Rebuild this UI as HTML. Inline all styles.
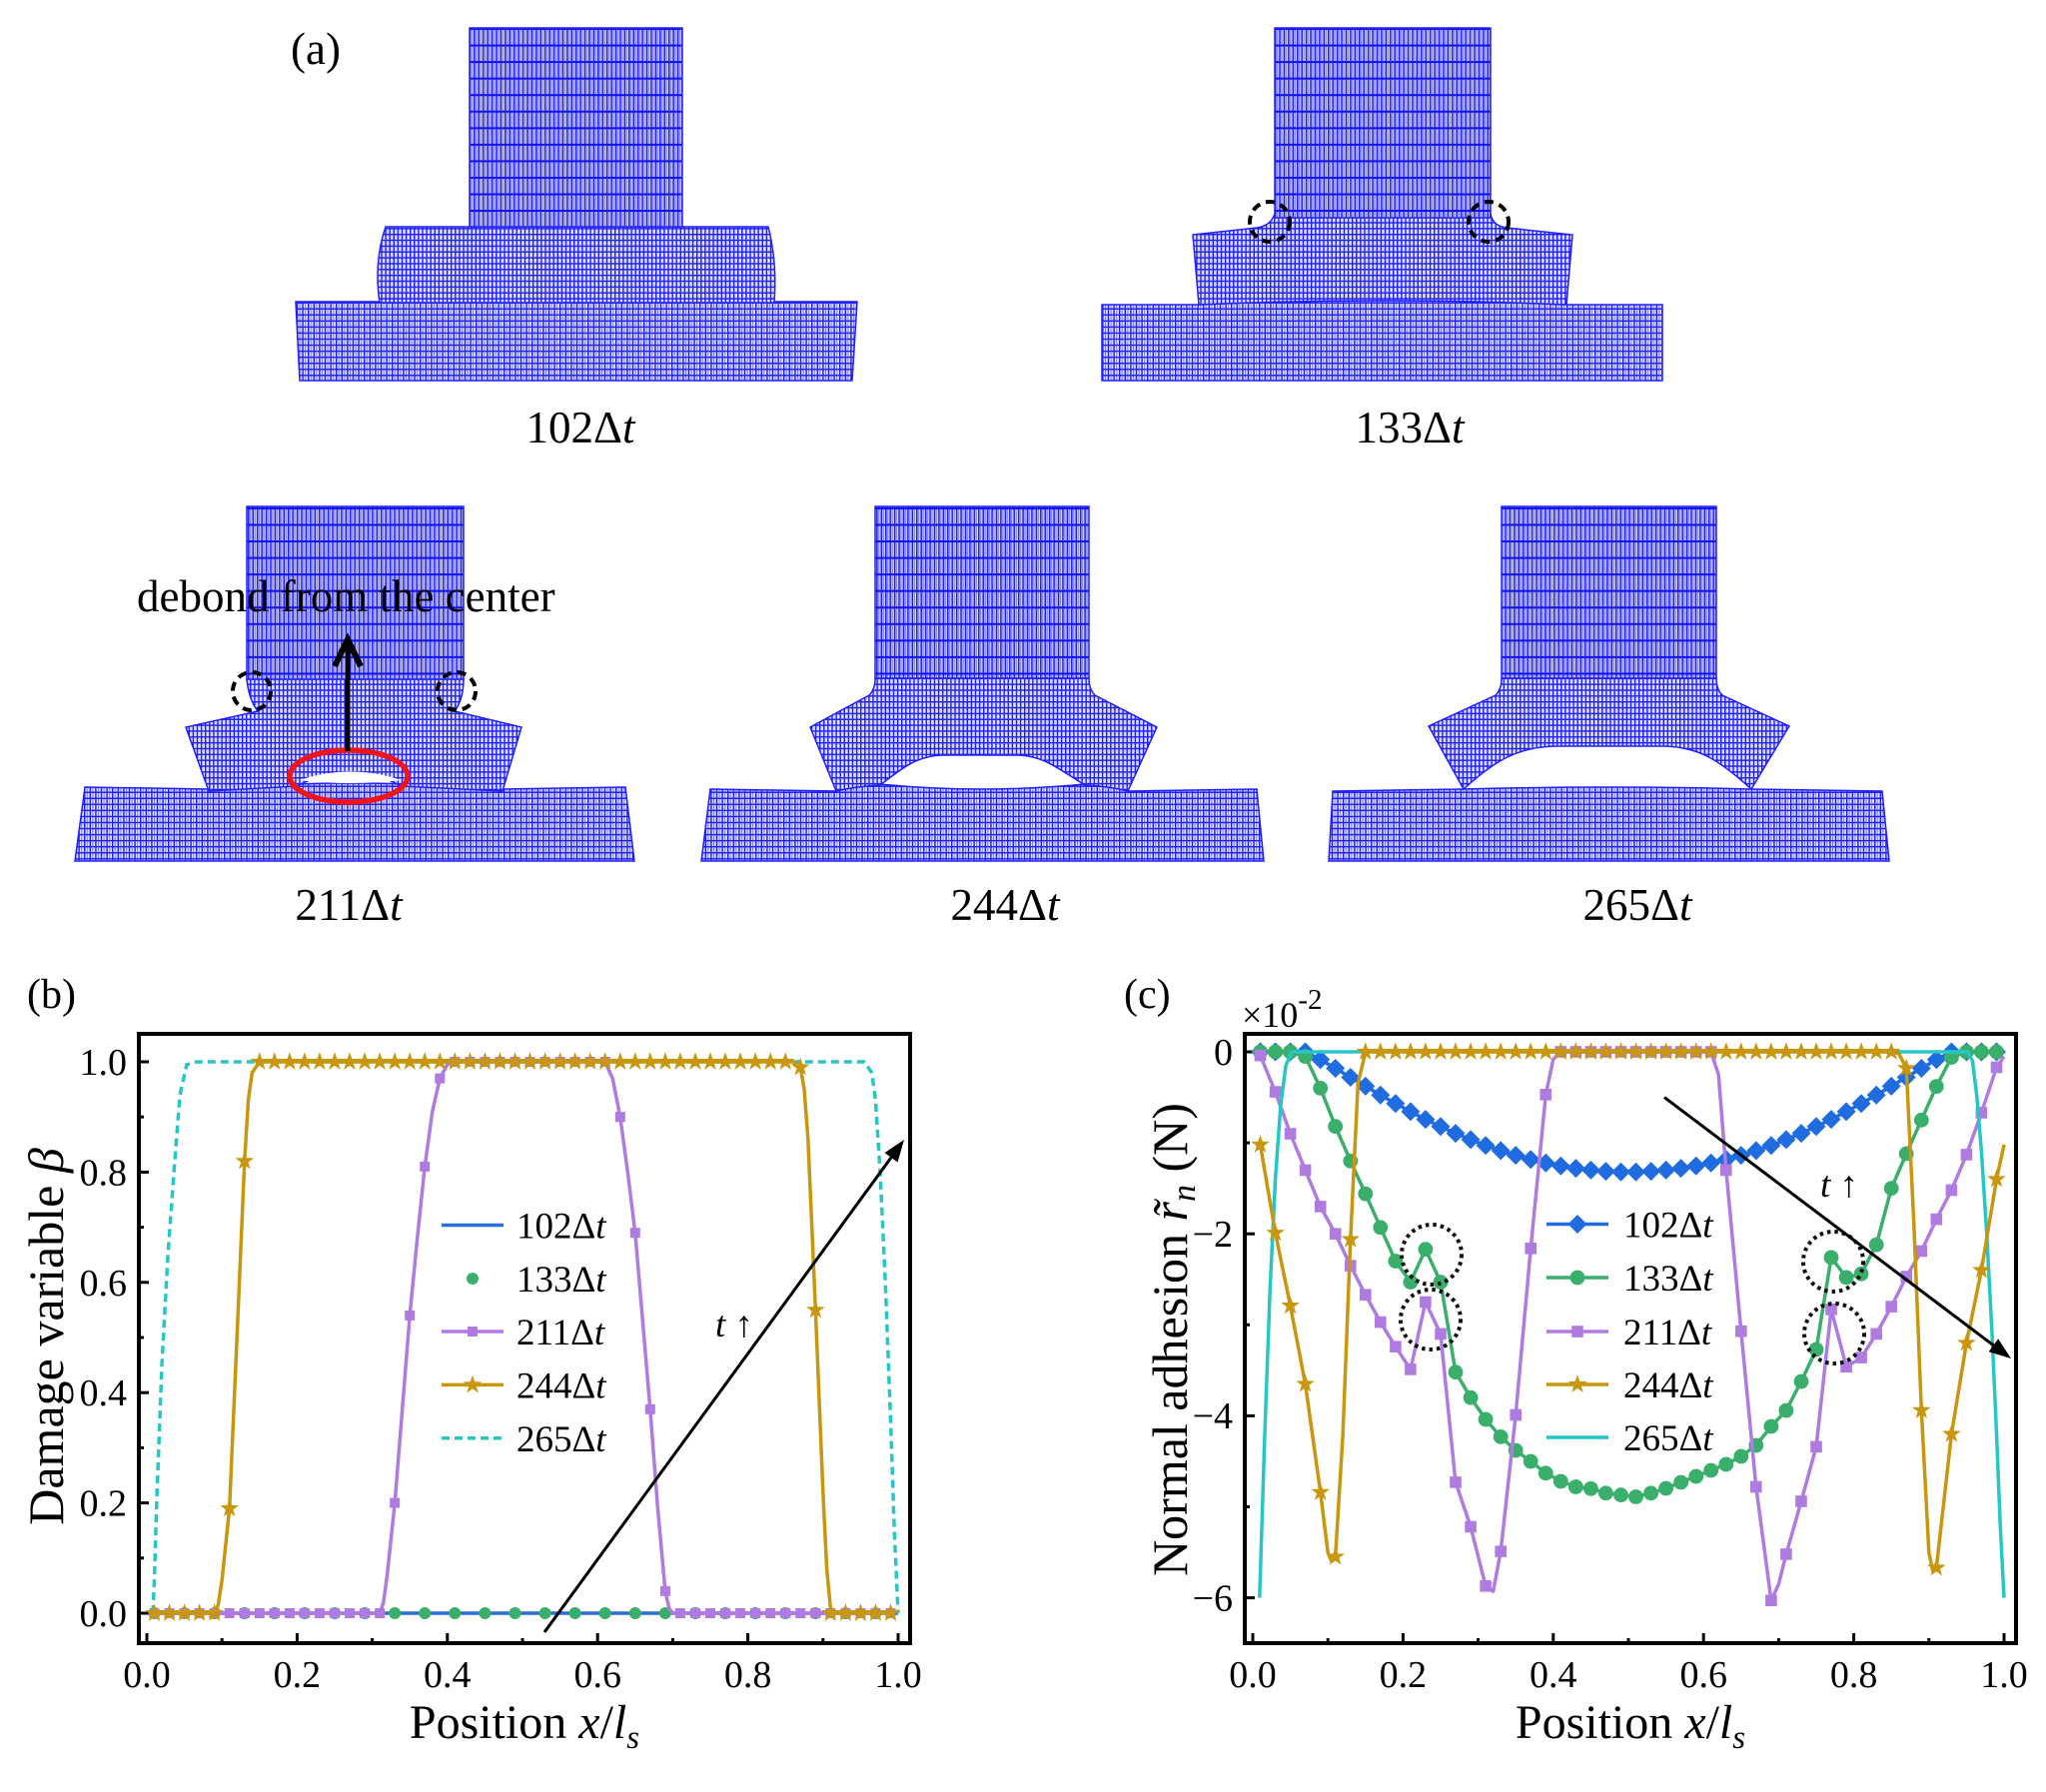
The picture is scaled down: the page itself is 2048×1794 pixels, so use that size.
<!DOCTYPE html>
<html><head><meta charset="utf-8"><style>
html,body{margin:0;padding:0;background:#fff;}
svg{display:block;font-family:"Liberation Serif","DejaVu Serif",serif;}
</style></head><body>
<svg width="2048" height="1794" viewBox="0 0 2048 1794" xmlns="http://www.w3.org/2000/svg">
<defs>
<pattern id="pT" patternUnits="userSpaceOnUse" x="0" y="11.45" width="4.43" height="16.55">
<rect width="4.43" height="16.55" fill="#d6d6f8"/>
<rect x="0" y="0" width="1.5" height="16.55" fill="#1c1cff"/>
<rect x="2.2" y="0" width="1.0" height="16.55" fill="#7070ff"/>
<rect x="0" y="0" width="4.43" height="2" fill="#1010f0"/>
</pattern>
<pattern id="pM" patternUnits="userSpaceOnUse" x="0" y="0" width="4.1" height="5.85">
<rect width="4.1" height="5.85" fill="#dcdcf8"/>
<rect x="0" y="0" width="1.4" height="5.85" fill="#1e1eff"/>
<rect x="0" y="0" width="4.1" height="1.4" fill="#1e1eff"/>
</pattern>
<pattern id="pB" patternUnits="userSpaceOnUse" x="0" y="0" width="5.6" height="6.05">
<rect width="5.6" height="6.05" fill="#dcdcf8"/>
<rect x="0" y="0" width="1.4" height="6.05" fill="#1e1eff"/>
<rect x="2.8" y="0" width="1.0" height="6.05" fill="#7a7aff"/>
<rect x="0" y="0" width="5.6" height="1.4" fill="#1e1eff"/>
</pattern>
<marker id="mCirB" markerUnits="userSpaceOnUse" markerWidth="1" markerHeight="1" overflow="visible"><circle r="6" fill="#3aae6b"/></marker>
<marker id="mSqB" markerUnits="userSpaceOnUse" markerWidth="1" markerHeight="1" overflow="visible"><rect x="-5" y="-5" width="10" height="10" fill="#b07be0"/></marker>
<marker id="mStar" markerUnits="userSpaceOnUse" markerWidth="1" markerHeight="1" overflow="visible"><polygon transform="scale(1.4)" points="0,-7 1.65,-2.27 6.66,-2.16 2.66,0.87 4.11,5.66 0,2.8 -4.11,5.66 -2.66,0.87 -6.66,-2.16 -1.65,-2.27" fill="#c8960f"/></marker>
<marker id="mDia" markerUnits="userSpaceOnUse" markerWidth="1" markerHeight="1" overflow="visible"><polygon points="0,-9.5 9.5,0 0,9.5 -9.5,0" fill="#1f6be0"/></marker>
<marker id="mCirC" markerUnits="userSpaceOnUse" markerWidth="1" markerHeight="1" overflow="visible"><circle r="7.4" fill="#3aae6b"/></marker>
<marker id="mSqC" markerUnits="userSpaceOnUse" markerWidth="1" markerHeight="1" overflow="visible"><rect x="-5.8" y="-5.8" width="11.6" height="11.6" fill="#b07be0"/></marker>
</defs>

<!-- ================= Panel (a) ================= -->
<text x="291" y="64" font-size="45">(a)</text>

<!-- 102 -->
<path d="M296,302 L858,302 L853,381 L300,381 Z" fill="url(#pB)" stroke="#2020ff" stroke-width="1.5"/>
<path d="M386,227 L769,227 Q778,262 775,303 L380,303 Q374,262 386,227 Z" fill="url(#pM)" stroke="#2020ff" stroke-width="1.5"/>
<rect x="470" y="28" width="213" height="199" fill="url(#pT)" stroke="#2020ff" stroke-width="1.5"/>
<text x="581" y="443" font-size="45" text-anchor="middle">102Δ<tspan font-style="italic">t</tspan></text>

<!-- 133 -->
<path d="M1103,305 L1200,305 Q1384,296 1568,305 L1664,305 L1664,381 L1103,381 Z" fill="url(#pB)" stroke="#2020ff" stroke-width="1.5"/>
<path d="M1194,235 L1258,228 Q1272,226 1276,214 L1492,214 Q1494,226 1508,228 L1574,235 L1568,305 Q1384,297 1200,305 Z" fill="url(#pM)" stroke="#2020ff" stroke-width="1.5"/>
<rect x="1276" y="28" width="216" height="190" fill="url(#pT)" stroke="#2020ff" stroke-width="1.5"/>
<circle cx="1271" cy="222" r="20" fill="none" stroke="#000" stroke-width="4" stroke-dasharray="9 6"/>
<circle cx="1490" cy="222" r="20" fill="none" stroke="#000" stroke-width="4" stroke-dasharray="9 6"/>
<text x="1411" y="443" font-size="45" text-anchor="middle">133Δ<tspan font-style="italic">t</tspan></text>

<!-- 211 -->
<path d="M85,788 L209,790 Q349,778 503,790 L626,788 L635,862 L75,862 Z" fill="url(#pB)" stroke="#2020ff" stroke-width="1.5"/>
<path d="M247,680 L464,680 Q464,700 455,712 L522,728 L503,792 L402,787 Q349,760 297,787 L209,792 L186,728 L258,712 Q249,700 247,680 Z" fill="url(#pM)" stroke="#2020ff" stroke-width="1.5"/>
<path d="M300,781 Q350,764 402,781 Q350,787 300,781 Z" fill="#fff"/>
<rect x="247" y="507" width="217" height="173" fill="url(#pT)" stroke="#2020ff" stroke-width="1.5"/>
<circle cx="252" cy="692" r="19" fill="none" stroke="#000" stroke-width="4" stroke-dasharray="9 6"/>
<circle cx="457" cy="692" r="19" fill="none" stroke="#000" stroke-width="4" stroke-dasharray="9 6"/>
<ellipse cx="349" cy="777" rx="59" ry="26" fill="none" stroke="#f01414" stroke-width="5.5"/>
<line x1="348" y1="752" x2="348" y2="645" stroke="#000" stroke-width="5"/>
<polyline points="335,667 348,640 361,667" fill="none" stroke="#000" stroke-width="6"/>
<text x="137" y="612" font-size="45">debond from the center</text>
<text x="349" y="921" font-size="45" text-anchor="middle">211Δ<tspan font-style="italic">t</tspan></text>

<!-- 244 -->
<path d="M711,790 L837,792 Q858,784 881,785 Q980,795 1086,785 Q1110,784 1129,792 L1258,790 L1265,862 L702,862 Z" fill="url(#pB)" stroke="#2020ff" stroke-width="1.5"/>
<path d="M876,679 L1090,679 Q1090,690 1096,696 L1158,728 L1129,792 Q1110,787 1086,786 C1060,770 1045,757 1020,756 L942,756 C917,757 902,770 881,786 Q858,787 837,792 L811,728 L870,696 Q876,690 876,679 Z" fill="url(#pM)" stroke="#2020ff" stroke-width="1.5"/>
<rect x="876" y="507" width="214" height="172" fill="url(#pT)" stroke="#2020ff" stroke-width="1.5"/>
<text x="1006" y="921" font-size="45" text-anchor="middle">244Δ<tspan font-style="italic">t</tspan></text>

<!-- 265 -->
<path d="M1334,792 L1465,790 Q1609,786 1753,790 L1884,792 L1891,862 L1330,862 Z" fill="url(#pB)" stroke="#2020ff" stroke-width="1.5"/>
<path d="M1503,679 L1718,679 Q1718,690 1724,696 L1791,727 L1753,790 C1720,760 1700,748 1666,747 L1557,747 C1520,748 1498,760 1465,790 L1430,727 L1497,696 Q1503,690 1503,679 Z" fill="url(#pM)" stroke="#2020ff" stroke-width="1.5"/>
<rect x="1503" y="507" width="215" height="172" fill="url(#pT)" stroke="#2020ff" stroke-width="1.5"/>
<text x="1639" y="921" font-size="45" text-anchor="middle">265Δ<tspan font-style="italic">t</tspan></text>

<!-- ================= Panel (b) ================= -->
<text x="27" y="1009" font-size="42">(b)</text>
<g stroke="#000" stroke-width="3">
<line x1="147" y1="1645" x2="147" y2="1635"/><line x1="222.2" y1="1645" x2="222.2" y2="1640"/>
<line x1="297.4" y1="1645" x2="297.4" y2="1635"/><line x1="372.6" y1="1645" x2="372.6" y2="1640"/>
<line x1="447.8" y1="1645" x2="447.8" y2="1635"/><line x1="523" y1="1645" x2="523" y2="1640"/>
<line x1="598.2" y1="1645" x2="598.2" y2="1635"/><line x1="673.4" y1="1645" x2="673.4" y2="1640"/>
<line x1="748.6" y1="1645" x2="748.6" y2="1635"/><line x1="823.8" y1="1645" x2="823.8" y2="1640"/>
<line x1="899" y1="1645" x2="899" y2="1635"/>
<line x1="139" y1="1615" x2="149" y2="1615"/><line x1="139" y1="1559.8" x2="144" y2="1559.8"/>
<line x1="139" y1="1504.6" x2="149" y2="1504.6"/><line x1="139" y1="1449.4" x2="144" y2="1449.4"/>
<line x1="139" y1="1394.2" x2="149" y2="1394.2"/><line x1="139" y1="1339" x2="144" y2="1339"/>
<line x1="139" y1="1283.8" x2="149" y2="1283.8"/><line x1="139" y1="1228.6" x2="144" y2="1228.6"/>
<line x1="139" y1="1173.4" x2="149" y2="1173.4"/><line x1="139" y1="1118.2" x2="144" y2="1118.2"/>
<line x1="139" y1="1063" x2="149" y2="1063"/>
</g>
<g font-size="38" text-anchor="middle">
<text x="147" y="1689">0.0</text><text x="297.4" y="1689">0.2</text><text x="447.8" y="1689">0.4</text>
<text x="598.2" y="1689">0.6</text><text x="748.6" y="1689">0.8</text><text x="899" y="1689">1.0</text>
</g>
<g font-size="38" text-anchor="end">
<text x="127" y="1628">0.0</text><text x="127" y="1517.6">0.2</text><text x="127" y="1407.2">0.4</text>
<text x="127" y="1296.8">0.6</text><text x="127" y="1186.4">0.8</text><text x="127" y="1076">1.0</text>
</g>
<text x="525" y="1740" font-size="48" text-anchor="middle">Position <tspan font-style="italic">x</tspan>/<tspan font-style="italic">l</tspan><tspan font-style="italic" font-size="33" dy="10">s</tspan></text>
<text transform="translate(63,1338) rotate(-90)" font-size="50" text-anchor="middle">Damage variable <tspan font-style="italic">β</tspan></text>

<!-- data (b) -->
<line x1="154.5" y1="1615" x2="899" y2="1615" stroke="#2a6dd9" stroke-width="3.5"/>
<polyline fill="none" stroke="none" marker-start="url(#mCirB)" marker-mid="url(#mCirB)" marker-end="url(#mCirB)" points="154.5,1615 184.6,1615 214.7,1615 244.8,1615 274.8,1615 304.9,1615 335,1615 365.1,1615 395.2,1615 425.2,1615 455.3,1615 485.4,1615 515.5,1615 545.6,1615 575.6,1615 605.7,1615 635.8,1615 665.9,1615 696,1615 726,1615 756.1,1615 786.2,1615 816.3,1615 846.4,1615 876.4,1615"/>
<path fill="none" stroke="#b07be0" stroke-width="3.5" stroke-linejoin="round" d="M154.5,1615 L380.1,1615 L383.9,1604 L387.6,1576.4 L395.2,1504.6 L402.7,1410.8 L410.2,1316.9 L417.7,1239.6 L425.2,1167.9 L432.8,1112.7 L440.3,1079.6 L447.8,1065.8 L455.3,1063 L605.7,1063 L613.2,1079.6 L620.8,1118.2 L628.3,1173.4 L635.8,1234.1 L643.3,1322.4 L650.8,1410.8 L658.4,1510.1 L665.9,1592.9 L669.6,1609.5 L673.4,1615 L891.5,1615"/>
<polyline fill="none" stroke="none" marker-start="url(#mSqB)" marker-mid="url(#mSqB)" marker-end="url(#mSqB)" points="154.5,1615 169.6,1615 184.6,1615 199.6,1615 214.7,1615 229.7,1615 244.8,1615 259.8,1615 274.8,1615 289.9,1615 304.9,1615 319.9,1615 335,1615 350,1615 365.1,1615 380.1,1615 395.2,1504.6 410.2,1316.9 425.2,1167.9 440.3,1079.6 455.3,1063 470.4,1063 485.4,1063 500.4,1063 515.5,1063 530.5,1063 545.6,1063 560.6,1063 575.6,1063 590.7,1063 605.7,1063 620.8,1118.2 635.8,1234.1 650.8,1410.8 665.9,1592.9 680.9,1615 696,1615 711,1615 726,1615 741.1,1615 756.1,1615 771.2,1615 786.2,1615 801.2,1615 816.3,1615 831.3,1615 846.4,1615 861.4,1615 876.4,1615 891.5,1615"/>
<path fill="none" stroke="#27c6c6" stroke-width="3.5" stroke-dasharray="8 5" d="M153,1615 L154.5,1581.9 L156.8,1504.6 L162,1366.6 L168.1,1256.2 L174.1,1173.4 L180.1,1096.1 L186.9,1065.8 L196.6,1063 L865.2,1063 L872.7,1074 L876.4,1101.6 L881,1173.4 L886.2,1283.8 L891.5,1421.8 L895.2,1532.2 L899,1615"/>
<path fill="none" stroke="#c8960f" stroke-width="3.5" stroke-linejoin="round" d="M154.5,1615 L214.7,1615 L218.4,1606.7 L222.2,1581.9 L229.7,1510.1 L237.2,1339 L244.8,1162.4 L248.5,1101.6 L252.3,1074 L259.8,1063 L793.7,1063 L801.2,1068.5 L805,1090.6 L808.8,1140.3 L816.3,1311.4 L823.8,1493.6 L827.6,1570.8 L831.3,1609.5 L835.1,1615 L891.5,1615"/>
<polyline fill="none" stroke="none" marker-start="url(#mStar)" marker-mid="url(#mStar)" marker-end="url(#mStar)" points="154.5,1615 169.6,1615 184.6,1615 199.6,1615 214.7,1615 229.7,1510.1 244.8,1162.4 259.8,1063 274.8,1063 289.9,1063 304.9,1063 319.9,1063 335,1063 350,1063 365.1,1063 380.1,1063 395.2,1063 410.2,1063 425.2,1063 440.3,1063 455.3,1063 470.4,1063 485.4,1063 500.4,1063 515.5,1063 530.5,1063 545.6,1063 560.6,1063 575.6,1063 590.7,1063 605.7,1063 620.8,1063 635.8,1063 650.8,1063 665.9,1063 680.9,1063 696,1063 711,1063 726,1063 741.1,1063 756.1,1063 771.2,1063 786.2,1063 801.2,1068.5 816.3,1311.4 831.3,1615 846.4,1615 861.4,1615 876.4,1615 891.5,1615"/>

<!-- legend (b) -->
<line x1="442" y1="1226.5" x2="504" y2="1226.5" stroke="#2a6dd9" stroke-width="3.5"/>
<circle cx="473" cy="1280" r="6" fill="#3aae6b"/>
<line x1="442" y1="1333" x2="504" y2="1333" stroke="#b07be0" stroke-width="3.5"/>
<rect x="468" y="1328" width="10" height="10" fill="#b07be0"/>
<line x1="442" y1="1386.4" x2="504" y2="1386.4" stroke="#c8960f" stroke-width="3.5"/>
<polygon transform="translate(473,1386.4) scale(1.4)" points="0,-7 1.65,-2.27 6.66,-2.16 2.66,0.87 4.11,5.66 0,2.8 -4.11,5.66 -2.66,0.87 -6.66,-2.16 -1.65,-2.27" fill="#c8960f"/>
<line x1="442" y1="1439.7" x2="504" y2="1439.7" stroke="#27c6c6" stroke-width="3.5" stroke-dasharray="8 5"/>
<g font-size="37">
<text x="517" y="1239.5">102Δ<tspan font-style="italic">t</tspan></text>
<text x="517" y="1293">133Δ<tspan font-style="italic">t</tspan></text>
<text x="517" y="1346">211Δ<tspan font-style="italic">t</tspan></text>
<text x="517" y="1399.5">244Δ<tspan font-style="italic">t</tspan></text>
<text x="517" y="1453">265Δ<tspan font-style="italic">t</tspan></text>
</g>
<text x="716" y="1338" font-size="37"><tspan font-style="italic">t</tspan> ↑</text>
<line x1="545" y1="1634" x2="892" y2="1158.8" stroke="#000" stroke-width="3"/>
<polygon points="905,1141 898.5,1163.5 885.5,1154.1" fill="#000"/>
<rect x="139" y="1035" width="772" height="610" fill="none" stroke="#000" stroke-width="4"/>

<!-- ================= Panel (c) ================= -->
<text x="1125" y="1009" font-size="42">(c)</text>
<text x="1243" y="1028" font-size="36">×10<tspan font-size="29" dy="-18">-2</tspan></text>
<g stroke="#000" stroke-width="3">
<line x1="1254" y1="1645" x2="1254" y2="1635"/><line x1="1329.2" y1="1645" x2="1329.2" y2="1640"/>
<line x1="1404.4" y1="1645" x2="1404.4" y2="1635"/><line x1="1479.6" y1="1645" x2="1479.6" y2="1640"/>
<line x1="1554.8" y1="1645" x2="1554.8" y2="1635"/><line x1="1630" y1="1645" x2="1630" y2="1640"/>
<line x1="1705.2" y1="1645" x2="1705.2" y2="1635"/><line x1="1780.4" y1="1645" x2="1780.4" y2="1640"/>
<line x1="1855.6" y1="1645" x2="1855.6" y2="1635"/><line x1="1930.8" y1="1645" x2="1930.8" y2="1640"/>
<line x1="2006" y1="1645" x2="2006" y2="1635"/>
<line x1="1246" y1="1053" x2="1256" y2="1053"/><line x1="1246" y1="1144.1" x2="1251" y2="1144.1"/>
<line x1="1246" y1="1235.2" x2="1256" y2="1235.2"/><line x1="1246" y1="1326.3" x2="1251" y2="1326.3"/>
<line x1="1246" y1="1417.4" x2="1256" y2="1417.4"/><line x1="1246" y1="1508.5" x2="1251" y2="1508.5"/>
<line x1="1246" y1="1599.6" x2="1256" y2="1599.6"/>
</g>
<g font-size="38" text-anchor="middle">
<text x="1254" y="1689">0.0</text><text x="1404.4" y="1689">0.2</text><text x="1554.8" y="1689">0.4</text>
<text x="1705.2" y="1689">0.6</text><text x="1855.6" y="1689">0.8</text><text x="2006" y="1689">1.0</text>
</g>
<g font-size="38" text-anchor="end">
<text x="1234" y="1066">0</text><text x="1234" y="1248">−2</text><text x="1234" y="1430">−4</text><text x="1234" y="1612.6">−6</text>
</g>
<text x="1632" y="1740" font-size="48" text-anchor="middle">Position <tspan font-style="italic">x</tspan>/<tspan font-style="italic">l</tspan><tspan font-style="italic" font-size="33" dy="10">s</tspan></text>
<text transform="translate(1188,1341) rotate(-90)" font-size="50" text-anchor="middle">Normal adhesion <tspan font-style="italic">r&#771;</tspan><tspan font-style="italic" font-size="34" dy="8">n</tspan><tspan dy="-8"> (N)</tspan></text>

<!-- data (c) -->
<polyline fill="none" stroke="#1f6be0" stroke-width="3.5" stroke-linejoin="round" points="1261.5,1053 1276.6,1053 1291.6,1053 1306.6,1053 1321.7,1060.7 1336.7,1069.5 1351.8,1078.5 1366.8,1087.4 1381.8,1096.3 1396.9,1104.7 1411.9,1112.9 1426.9,1120.6 1442,1127.8 1457,1134.6 1472.1,1140.9 1487.1,1146.7 1502.2,1151.9 1517.2,1156.6 1532.2,1160.7 1547.3,1164.2 1562.3,1167.2 1577.4,1169.6 1592.4,1171.4 1607.4,1172.6 1622.5,1173.2 1637.5,1173.2 1652.6,1172.6 1667.6,1171.4 1682.6,1169.6 1697.7,1167.2 1712.7,1164.2 1727.8,1160.7 1742.8,1156.6 1757.8,1151.9 1772.9,1146.7 1787.9,1140.9 1803,1134.6 1818,1127.8 1833,1120.6 1848.1,1112.9 1863.1,1104.7 1878.2,1096.3 1893.2,1087.4 1908.2,1078.5 1923.3,1069.5 1938.3,1060.7 1953.4,1053 1968.4,1053 1983.4,1053 1998.5,1053 2006,1053" marker-start="url(#mDia)" marker-mid="url(#mDia)"/>
<polyline fill="none" stroke="#3aae6b" stroke-width="3.5" stroke-linejoin="round" marker-start="url(#mCirC)" marker-mid="url(#mCirC)" marker-end="url(#mCirC)" points="1261.5,1053 1276.6,1053 1291.6,1053 1306.6,1057.6 1321.7,1089.4 1336.7,1127.7 1351.8,1162.3 1366.8,1195.1 1381.8,1228.8 1396.9,1262.5 1411.9,1283.5 1426.9,1250.7 1442,1283.5 1457,1373.7 1472.1,1399.2 1487.1,1421 1502.2,1438.4 1517.2,1452 1532.2,1463 1547.3,1474.8 1562.3,1483 1577.4,1488.5 1592.4,1490.3 1607.4,1494.8 1622.5,1496.7 1637.5,1498.5 1652.6,1494.8 1667.6,1490 1682.6,1484 1697.7,1478 1712.7,1472 1727.8,1466 1742.8,1458 1757.8,1447 1772.9,1428 1787.9,1412 1803,1383 1818,1351 1833,1258.9 1848.1,1278.9 1863.1,1275.3 1878.2,1246.1 1893.2,1189.7 1908.2,1155 1923.3,1121.3 1938.3,1087.6 1953.4,1058.5 1968.4,1053 1983.4,1053 1998.5,1053"/>
<path fill="none" stroke="#b07be0" stroke-width="3.5" stroke-linejoin="round" d="M1261.5,1056.6 L1276.6,1093.1 L1291.6,1135 L1306.6,1171.4 L1321.7,1207.9 L1336.7,1235.2 L1351.8,1267.1 L1366.8,1296.2 L1381.8,1323.6 L1396.9,1348.2 L1411.9,1370.9 L1426.9,1303.5 L1442,1335.4 L1457,1483.9 L1472.1,1528.5 L1487.1,1587.8 L1494.6,1593.2 L1502.2,1553.1 L1517.2,1416.5 L1532.2,1249.8 L1547.3,1095.8 L1554.8,1060.3 L1562.3,1053 L1712.7,1053 L1720.2,1075.8 L1727.8,1171.4 L1742.8,1332.7 L1757.8,1488.5 L1772.9,1602.3 L1780.4,1586 L1787.9,1555.9 L1803,1503 L1818,1448.4 L1833,1310.8 L1848.1,1368.2 L1863.1,1359.1 L1878.2,1335.4 L1893.2,1308.1 L1908.2,1278 L1923.3,1252.5 L1938.3,1220.6 L1953.4,1191.5 L1968.4,1155.9 L1983.4,1114 L1998.5,1068.5 L2006,1057.6"/>
<polyline fill="none" stroke="none" marker-start="url(#mSqC)" marker-mid="url(#mSqC)" marker-end="url(#mSqC)" points="1261.5,1056.6 1276.6,1093.1 1291.6,1135 1306.6,1171.4 1321.7,1207.9 1336.7,1235.2 1351.8,1267.1 1366.8,1296.2 1381.8,1323.6 1396.9,1348.2 1411.9,1370.9 1426.9,1303.5 1442,1335.4 1457,1483.9 1472.1,1528.5 1487.1,1587.8 1502.2,1553.1 1517.2,1416.5 1532.2,1249.8 1547.3,1095.8 1562.3,1053 1577.4,1053 1592.4,1053 1607.4,1053 1622.5,1053 1637.5,1053 1652.6,1053 1667.6,1053 1682.6,1053 1697.7,1053 1712.7,1053 1727.8,1171.4 1742.8,1332.7 1757.8,1488.5 1772.9,1602.3 1787.9,1555.9 1803,1503 1818,1448.4 1833,1310.8 1848.1,1368.2 1863.1,1359.1 1878.2,1335.4 1893.2,1308.1 1908.2,1278 1923.3,1252.5 1938.3,1220.6 1953.4,1191.5 1968.4,1155.9 1983.4,1114 1998.5,1068.5"/>
<path fill="none" stroke="#27c6c6" stroke-width="3.5" stroke-linejoin="round" d="M1260.8,1599.6 L1266,1435.6 L1271.3,1289.9 L1276.6,1180.5 L1281.8,1107.7 L1287.1,1066.7 L1293.1,1053 L1969.9,1053 L1974.4,1062.1 L1978.9,1098.6 L1983.4,1153.2 L1988.7,1235.2 L1994,1335.4 L1998.5,1435.6 L2002.2,1526.7 L2006,1599.6"/>
<path fill="none" stroke="#c8960f" stroke-width="3.5" stroke-linejoin="round" d="M1261.5,1145.9 L1276.6,1234.3 L1291.6,1307.2 L1306.6,1385.5 L1321.7,1493.9 L1329.2,1554.1 L1333,1563.2 L1336.7,1558.6 L1344.2,1435.6 L1351.8,1240.7 L1359.3,1084.9 L1366.8,1053 L1893.2,1053 L1900.7,1054.8 L1908.2,1069.4 L1915.8,1226.1 L1923.3,1411.9 L1930.8,1554.1 L1934.6,1572.3 L1938.3,1569.5 L1953.4,1435.6 L1968.4,1344.5 L1983.4,1271.6 L1998.5,1180.5 L2006,1145.9"/>
<polyline fill="none" stroke="none" marker-start="url(#mStar)" marker-mid="url(#mStar)" marker-end="url(#mStar)" points="1261.5,1145.9 1276.6,1234.3 1291.6,1307.2 1306.6,1385.5 1321.7,1493.9 1336.7,1558.6 1351.8,1240.7 1366.8,1053 1381.8,1053 1396.9,1053 1411.9,1053 1426.9,1053 1442,1053 1457,1053 1472.1,1053 1487.1,1053 1502.2,1053 1517.2,1053 1532.2,1053 1547.3,1053 1562.3,1053 1577.4,1053 1592.4,1053 1607.4,1053 1622.5,1053 1637.5,1053 1652.6,1053 1667.6,1053 1682.6,1053 1697.7,1053 1712.7,1053 1727.8,1053 1742.8,1053 1757.8,1053 1772.9,1053 1787.9,1053 1803,1053 1818,1053 1833,1053 1848.1,1053 1863.1,1053 1878.2,1053 1893.2,1053 1908.2,1069.4 1923.3,1411.9 1938.3,1569.5 1953.4,1435.6 1968.4,1344.5 1983.4,1271.6 1998.5,1180.5"/>

<!-- dotted circles -->
<g fill="none" stroke="#111" stroke-width="4" stroke-dasharray="3.5 4">
<circle cx="1433" cy="1256" r="30"/>
<circle cx="1432" cy="1321" r="30"/>
<circle cx="1835" cy="1263" r="30"/>
<circle cx="1836" cy="1335" r="30"/>
</g>

<!-- legend (c) -->
<line x1="1548" y1="1225.5" x2="1610" y2="1225.5" stroke="#1f6be0" stroke-width="3.5"/>
<polygon transform="translate(1579,1225.5)" points="0,-9.5 9.5,0 0,9.5 -9.5,0" fill="#1f6be0"/>
<line x1="1548" y1="1279" x2="1610" y2="1279" stroke="#3aae6b" stroke-width="3.5"/>
<circle cx="1579" cy="1279" r="7.4" fill="#3aae6b"/>
<line x1="1548" y1="1333" x2="1610" y2="1333" stroke="#b07be0" stroke-width="3.5"/>
<rect x="1573.2" y="1327.2" width="11.6" height="11.6" fill="#b07be0"/>
<line x1="1548" y1="1386" x2="1610" y2="1386" stroke="#c8960f" stroke-width="3.5"/>
<polygon transform="translate(1579,1386) scale(1.4)" points="0,-7 1.65,-2.27 6.66,-2.16 2.66,0.87 4.11,5.66 0,2.8 -4.11,5.66 -2.66,0.87 -6.66,-2.16 -1.65,-2.27" fill="#c8960f"/>
<line x1="1548" y1="1439" x2="1610" y2="1439" stroke="#27c6c6" stroke-width="3.5"/>
<g font-size="37">
<text x="1625" y="1238.5">102Δ<tspan font-style="italic">t</tspan></text>
<text x="1625" y="1292">133Δ<tspan font-style="italic">t</tspan></text>
<text x="1625" y="1346">211Δ<tspan font-style="italic">t</tspan></text>
<text x="1625" y="1399">244Δ<tspan font-style="italic">t</tspan></text>
<text x="1625" y="1452">265Δ<tspan font-style="italic">t</tspan></text>
</g>
<text x="1822" y="1198" font-size="37"><tspan font-style="italic">t</tspan> ↑</text>
<line x1="1666" y1="1098.6" x2="1995.4" y2="1346.8" stroke="#000" stroke-width="3"/>
<polygon points="2013,1360 1990.6,1353.2 2000.2,1340.4" fill="#000"/>
<rect x="1246" y="1035" width="772" height="610" fill="none" stroke="#000" stroke-width="4"/>
</svg>
</body></html>
